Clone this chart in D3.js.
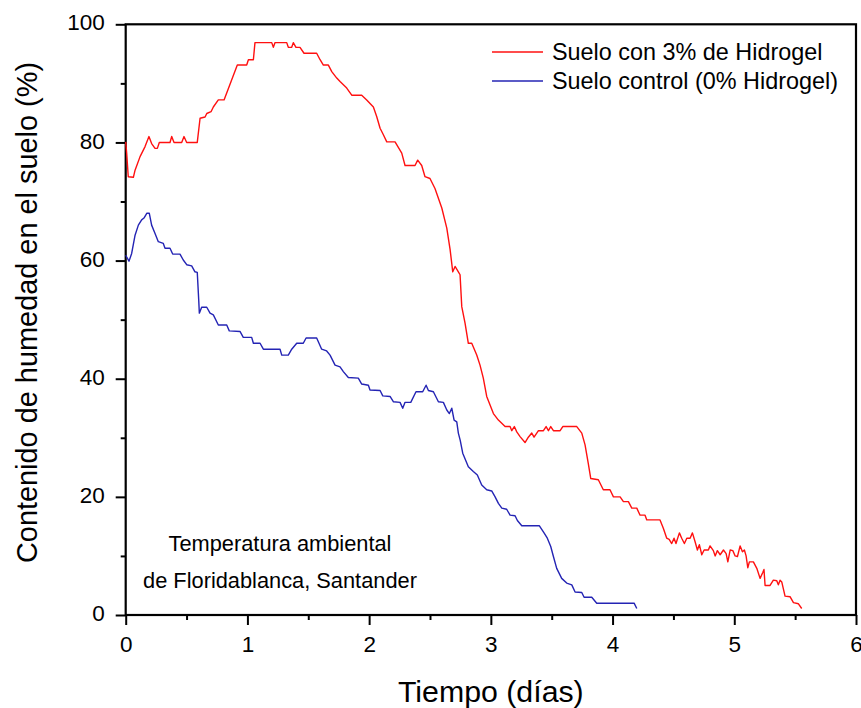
<!DOCTYPE html>
<html><head><meta charset="utf-8">
<script src="https://cdn.jsdelivr.net/npm/d3@7"></script>
<style>body{margin:0;background:#fff}svg{display:block}text{font-family:"Liberation Sans",Arial,sans-serif;fill:#000}</style>
</head><body>
<script>
const seriesNames = ["Suelo con 3% de Hidrogel", "Suelo control (0% Hidrogel)"];
const xTicks = [0,1,2,3,4,5,6];
const yTicks = [0,20,40,60,80,100];
const annotation = ["Temperatura ambiental", "de Floridablanca, Santander"];
const xTitle = "Tiempo (días)";
const yTitle = "Contenido de humedad en el suelo (%)";

const redX = [0,0.008,0.021,0.063,0.077,0.118,0.159,0.191,0.213,0.241,0.26,0.276,0.364,0.378,0.397,0.46,0.479,0.501,0.588,0.611,0.652,0.666,0.701,0.72,0.761,0.808,0.917,0.994,1.008,1.049,1.062,1.2,1.213,1.227,1.323,1.336,1.364,1.377,1.399,1.432,1.465,1.569,1.597,1.624,1.665,1.693,1.734,1.761,1.816,1.857,1.939,1.98,2.035,2.062,2.09,2.117,2.145,2.213,2.268,2.295,2.377,2.399,2.432,2.459,2.5,2.541,2.597,2.638,2.665,2.687,2.706,2.733,2.747,2.761,2.788,2.815,2.843,2.884,2.911,2.938,2.966,3.021,3.062,3.117,3.158,3.172,3.193,3.213,3.24,3.281,3.308,3.336,3.355,3.391,3.432,3.454,3.473,3.492,3.514,3.569,3.591,3.706,3.747,3.774,3.8,3.821,3.883,3.924,3.979,4.007,4.062,4.089,4.13,4.158,4.199,4.226,4.267,4.281,4.39,4.417,4.445,4.465,4.486,4.505,4.521,4.549,4.568,4.59,4.61,4.637,4.656,4.678,4.697,4.713,4.733,4.752,4.787,4.801,4.828,4.843,4.861,4.884,4.911,4.933,4.947,4.966,4.988,5.007,5.026,5.048,5.067,5.083,5.097,5.111,5.124,5.157,5.185,5.212,5.234,5.244,5.253,5.294,5.321,5.349,5.362,5.376,5.39,5.417,5.458,5.486,5.527,5.554];
const redY = [80.1,78.2,74.2,74.1,75.3,77.6,79.3,81.0,79.8,79.0,79.0,80.0,80.0,81.0,80.0,80.0,81.0,80.0,80.0,84.1,84.3,84.9,85.2,86.0,87.2,87.2,93.1,93.1,94.0,94.0,96.9,96.9,96.1,96.9,96.9,96.1,96.1,96.9,96.1,96.1,95.1,95.1,94.0,93.1,93.1,92.0,90.9,90.3,89.2,88.0,88.0,87.2,86.0,84.4,82.4,81.3,80.1,80.1,78.2,76.1,76.1,77.0,76.1,74.2,73.9,72.2,68.9,65.5,61.9,58.1,59.0,58.1,57.6,52.2,49.4,46.0,46.0,44.0,42.3,40.1,37.0,34.1,33.0,31.9,31.9,31.2,31.9,31.0,30.2,29.2,30.1,30.8,30.1,31.2,31.2,31.9,31.2,31.9,31.2,31.2,31.9,31.9,30.8,28.8,25.7,23.1,22.9,21.2,21.2,20.0,20.0,19.2,19.2,18.1,18.1,16.9,16.9,16.1,16.1,14.7,13.0,12.8,12.1,13.0,12.1,13.9,13.0,12.1,13.0,13.0,13.9,12.4,11.0,11.9,10.2,11.0,11.0,11.7,10.9,10.0,10.9,10.2,11.0,10.4,9.0,11.0,10.9,10.0,9.9,11.7,10.7,11.0,10.0,8.0,9.0,9.0,7.9,6.2,7.2,7.7,5.0,5.0,5.9,5.8,5.1,5.9,5.6,3.2,3.1,2.1,1.9,1.1];

const blueX = [0,0.027,0.049,0.077,0.104,0.131,0.15,0.173,0.194,0.213,0.241,0.268,0.309,0.323,0.364,0.386,0.446,0.473,0.501,0.542,0.569,0.588,0.6,0.605,0.624,0.666,0.693,0.72,0.761,0.83,0.851,0.939,0.966,1.035,1.049,1.104,1.131,1.268,1.282,1.336,1.364,1.405,1.459,1.482,1.569,1.61,1.651,1.679,1.72,1.761,1.788,1.829,1.911,1.939,1.994,2.007,2.09,2.112,2.172,2.2,2.254,2.276,2.295,2.342,2.385,2.44,2.468,2.487,2.528,2.569,2.61,2.638,2.659,2.679,2.698,2.72,2.733,2.748,2.769,2.815,2.856,2.889,2.925,2.966,3.007,3.035,3.062,3.09,3.13,3.158,3.199,3.218,3.254,3.399,3.437,3.464,3.492,3.514,3.541,3.582,3.623,3.665,3.692,3.747,3.766,3.829,3.87,4.177,4.199];
const blueY = [60.9,59.9,61.2,64.3,66.0,66.9,67.2,68.0,68.0,66.0,64.6,63.2,62.9,62.1,62.1,61.1,61.1,60.1,59.3,59.1,58.1,58.0,53.3,51.1,52.1,52.1,51.1,50.8,49.1,49.1,48.1,48.0,47.0,47.0,46.0,46.0,45.0,45.0,44.0,44.0,45.0,46.0,46.0,46.9,46.9,45.0,44.7,44.0,42.3,42.0,41.2,40.2,40.1,39.1,38.9,38.1,38.0,37.1,37.0,36.1,36.0,35.0,36.0,36.0,37.8,37.8,38.9,38.0,37.8,36.1,36.0,34.7,34.1,35.0,33.0,32.7,30.8,29.6,27.4,25.1,24.3,23.7,22.0,21.2,21.0,20.0,18.9,18.1,17.9,16.9,16.8,16.0,15.1,15.1,13.9,13.0,11.6,9.9,7.9,6.2,5.4,5.1,3.9,3.8,3.0,3.0,2.0,2.0,1.1];

const colors = ["#ff1010", "#2424b4"];

const W = 861, H = 708;
const L = 125.7, R = 856, T = 24.3, B = 615;
const svg = d3.select("body").append("svg").attr("width", W).attr("height", H);

const x = d3.scaleLinear().domain([0,6]).range([L,R]);
const y = d3.scaleLinear().domain([0,100]).range([B,T]);

const tickFont = "22.5px";

// minor ticks
const gxm = svg.append("g").attr("transform", `translate(0,${B})`)
  .call(d3.axisBottom(x).tickValues(d3.range(0.5,6,1)).tickSize(5).tickFormat(""));
gxm.select(".domain").remove();
const gym = svg.append("g").attr("transform", `translate(${L},0)`)
  .call(d3.axisLeft(y).tickValues(d3.range(10,100,20)).tickSize(5).tickFormat(""));
gym.select(".domain").remove();

const gx = svg.append("g").attr("transform", `translate(0,${B})`)
  .call(d3.axisBottom(x).tickValues(xTicks).tickSize(10).tickPadding(11).tickFormat(d3.format("d")));
gx.select(".domain").remove();
gx.selectAll("text").style("font-size", tickFont).attr("fill", "#000");

const gy = svg.append("g").attr("transform", `translate(${L},0)`)
  .call(d3.axisLeft(y).tickValues(yTicks).tickSize(10).tickPadding(11).tickFormat(d3.format("d")));
gy.select(".domain").remove();
gy.selectAll("text").style("font-size", tickFont).attr("fill", "#000").attr("dy", "0.25em");

svg.selectAll(".tick line").attr("stroke", "#000").attr("stroke-width", 2);

// frame
svg.append("rect").attr("x", L).attr("y", T).attr("width", R - L).attr("height", B - T)
  .attr("fill", "none").attr("stroke", "#000").attr("stroke-width", 2.2);

const line = d3.line().x(d => x(d[0])).y(d => y(d[1]));
const series = [d3.zip(redX, redY), d3.zip(blueX, blueY)];
series.forEach((s, i) => {
  svg.append("path").datum(s).attr("d", line).attr("fill", "none")
    .attr("stroke", colors[i]).attr("stroke-width", 1.4).attr("stroke-linejoin", "round");
});

// legend
const lg = svg.append("g");
seriesNames.forEach((n, i) => {
  const yy = 52 + i * 29;
  lg.append("line").attr("x1", 492).attr("x2", 543).attr("y1", yy).attr("y2", yy)
    .attr("stroke", colors[i]).attr("stroke-width", 1.4);
  lg.append("text").attr("x", 552).attr("y", yy + 8).style("font-size", "23.4px").text(n);
});

// annotation
annotation.forEach((t, i) => {
  svg.append("text").attr("x", 280).attr("y", 551 + i * 37).attr("text-anchor", "middle")
    .style("font-size", "21.8px").text(t);
});

// axis titles
svg.append("text").attr("x", (L + R) / 2).attr("y", 702).attr("text-anchor", "middle")
  .style("font-size", "30.3px").text(xTitle);
svg.append("text").attr("transform", `translate(37,${(62 + 563) / 2}) rotate(-90)`)
  .attr("text-anchor", "middle").style("font-size", "28.9px").text(yTitle);
</script>
</body></html>
